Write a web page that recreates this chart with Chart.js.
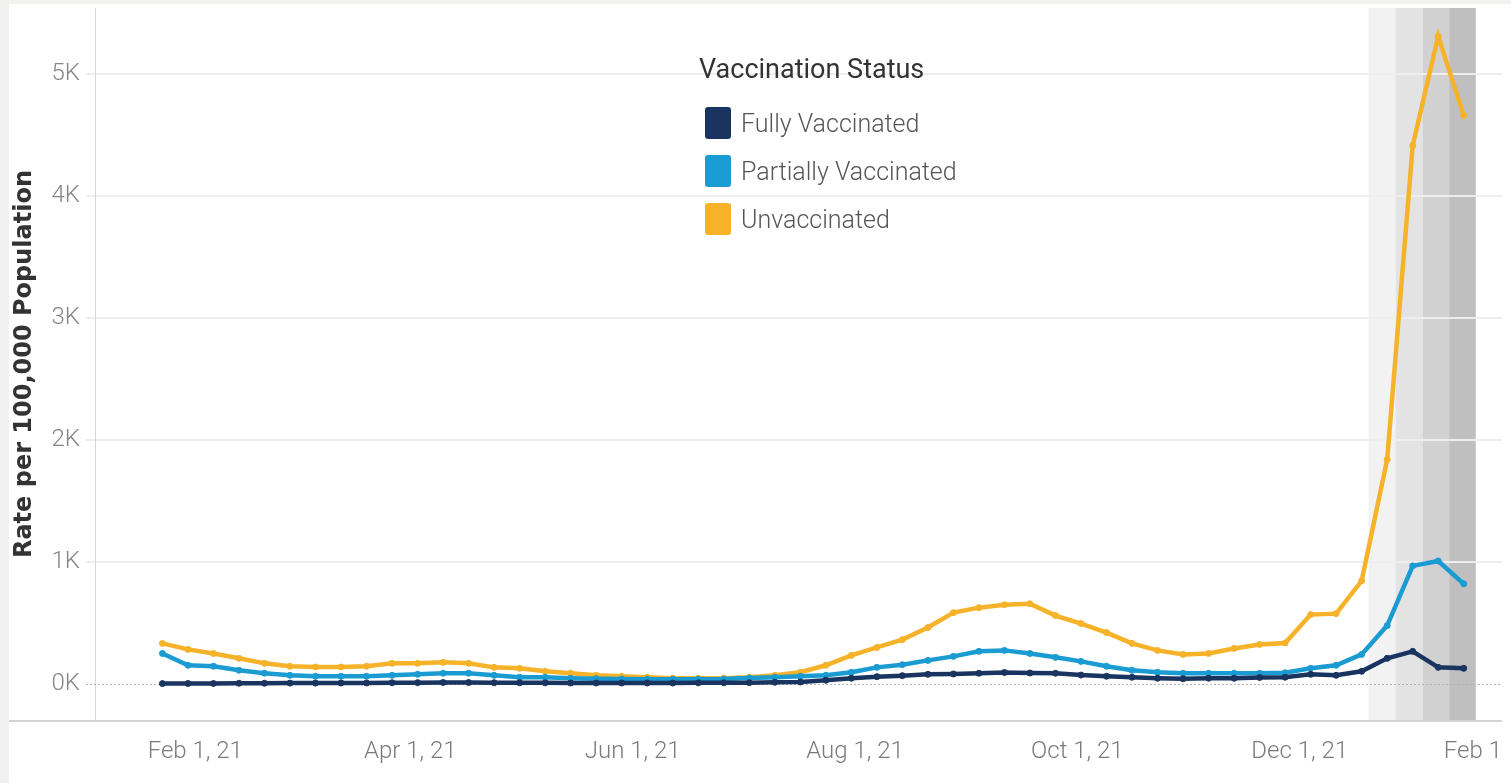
<!DOCTYPE html>
<html>
<head>
    <meta charset="utf-8">
    <title>Rate per 100,000 Population by Vaccination Status</title>
    <script src="https://cdn.jsdelivr.net/npm/chart.js@4.4.0/dist/chart.umd.min.js"></script>
    <style>
    html,
    body {
        margin: 0;
        padding: 0;
        background: #f1f1f0;
    }

    #panel {
        position: absolute;
        left: 9px;
        top: 4px;
        width: 1502px;
        height: 779px;
        background: #fff;
    }

    #legend {
        position: absolute;
        left: 690px;
        top: 49px;
        font-family: Roboto, "Noto Sans", sans-serif;
    }

    #legend .title {
        font-size: 27px;
        color: #333;
        margin-bottom: 14px;
    }

    #legend .item {
        display: flex;
        align-items: center;
        height: 48px;
        margin-left: 6px;
        font-size: 25px;
        font-weight: 300;
        color: #555;
    }

    #legend .box {
        width: 26px;
        height: 32px;
        border-radius: 3px;
        margin-right: 10px;
    }
    </style>
</head>

<body>
    <div id="panel">
        <canvas id="myChart"></canvas>
        <div id="legend"></div>
    </div>

    <script>
      // week ending dates
      const weeks = [
        '2021-01-23', '2021-01-30', '2021-02-06', '2021-02-13', '2021-02-20', '2021-02-27',
        '2021-03-06', '2021-03-13', '2021-03-20', '2021-03-27', '2021-04-03', '2021-04-10',
        '2021-04-17', '2021-04-24', '2021-05-01', '2021-05-08', '2021-05-15', '2021-05-22',
        '2021-05-29', '2021-06-05', '2021-06-12', '2021-06-19', '2021-06-26', '2021-07-03',
        '2021-07-10', '2021-07-17', '2021-07-24', '2021-07-31', '2021-08-07', '2021-08-14',
        '2021-08-21', '2021-08-28', '2021-09-04', '2021-09-11', '2021-09-18', '2021-09-25',
        '2021-10-02', '2021-10-09', '2021-10-16', '2021-10-23', '2021-10-30', '2021-11-06',
        '2021-11-13', '2021-11-20', '2021-11-27', '2021-12-04', '2021-12-11', '2021-12-18',
        '2021-12-25', '2022-01-01', '2022-01-08', '2022-01-15'
      ];

      const fullyVaccinated = [
        5, 6, 6, 8, 8, 9, 9, 10, 10, 12, 13, 14, 14, 12, 12, 11, 10, 10, 10, 10, 10, 11,
        12, 13, 16, 18, 33, 49, 62, 70, 81, 84, 90, 96, 92, 90, 75, 65, 57, 49, 44, 49,
        49, 55, 57, 81, 73, 106, 212, 269, 138, 130
      ];
      const partiallyVaccinated = [
        252, 155, 147, 114, 90, 73, 65, 65, 65, 73, 81, 90, 90, 73, 57, 57, 49, 45, 42, 40,
        40, 40, 42, 50, 57, 65, 73, 98, 138, 160, 195, 228, 269, 277, 252, 220, 187, 147,
        114, 98, 90, 90, 90, 90, 94, 130, 155, 244, 480, 969, 1009, 822
      ];
      const unvaccinated = [
        334, 285, 252, 212, 171, 147, 141, 141, 147, 171, 171, 179, 171, 138, 130, 106, 90,
        73, 65, 57, 49, 49, 49, 57, 73, 98, 155, 236, 301, 365, 464, 586, 627, 651, 659,
        562, 497, 423, 334, 277, 244, 252, 293, 326, 338, 570, 578, 847, 1840, 4410, 5305, 4656
      ];

      const seriesNames = ['Fully Vaccinated', 'Partially Vaccinated', 'Unvaccinated'];
      const seriesColors = ['#18345f', '#1a9bd2', '#f6b229'];

      const xTickDates = ['2021-02-01', '2021-04-01', '2021-06-01', '2021-08-01', '2021-10-01', '2021-12-01', '2022-02-01'];
      const xTickLabels = ['Feb 1, 21', 'Apr 1, 21', 'Jun 1, 21', 'Aug 1, 21', 'Oct 1, 21', 'Dec 1, 21', 'Feb 1'];
      const yTicks = [0, 1000, 2000, 3000, 4000, 5000];

      // shaded weeks at the end (start / end dates of each band) and their greys
      const bandEdges = ['2021-12-19.9', '2021-12-27.3', '2022-01-03.7', '2022-01-11', '2022-01-18.3'];
      const bandColors = ['#f2f2f2', '#e3e3e3', '#d1d1d1', '#bfbfbf'];

      const X_MIN = 3.5, X_MAX = 389.5, Y_MIN = -293, Y_MAX = 5537;

      function dayNum(s) {
        const [date, frac] = s.split('.');
        const [y, m, d] = date.split('-').map(Number);
        return (Date.UTC(y, m - 1, d) - Date.UTC(2021, 0, 1)) / 86400000 + (frac ? Number('0.' + frac) : 0);
      }

      const series = [fullyVaccinated, partiallyVaccinated, unvaccinated];
      const datasets = series.map((vals, k) => ({
        label: seriesNames[k],
        data: vals.map((v, i) => ({ x: dayNum(weeks[i]), y: v })),
        borderColor: seriesColors[k],
        backgroundColor: seriesColors[k],
        pointBackgroundColor: seriesColors[k],
        pointBorderColor: seriesColors[k],
        borderWidth: 4.5,
        pointRadius: 3,
        pointBorderWidth: 1,
        pointHoverRadius: 3,
        tension: 0,
        fill: false
      }));

      const bandsPlugin = {
        id: 'bands',
        beforeDraw(chart) {
          const { ctx, chartArea, scales } = chart;
          ctx.save();
          for (let i = 0; i < bandColors.length; i++) {
            const x0 = scales.x.getPixelForValue(dayNum(bandEdges[i]));
            const x1 = scales.x.getPixelForValue(dayNum(bandEdges[i + 1]));
            ctx.fillStyle = bandColors[i];
            ctx.fillRect(x0, chartArea.top, x1 - x0, chartArea.bottom - chartArea.top);
          }
          ctx.restore();
        }
      };

      const axisLinesPlugin = {
        id: 'axisLines',
        beforeDatasetsDraw(chart) {
          const { ctx, chartArea, scales } = chart;
          const y0 = scales.y.getPixelForValue(0);
          ctx.save();
          // dotted zero line
          ctx.strokeStyle = '#b9b1b4';
          ctx.lineWidth = 1;
          ctx.setLineDash([2, 2]);
          ctx.beginPath();
          ctx.moveTo(chartArea.left - 9, Math.round(y0) + 0.5);
          ctx.lineTo(chartArea.right, Math.round(y0) + 0.5);
          ctx.stroke();
          // bottom axis line across the whole panel
          ctx.setLineDash([]);
          ctx.strokeStyle = '#d2d2d2';
          ctx.lineWidth = 2;
          ctx.beginPath();
          ctx.moveTo(0, chartArea.bottom + 1);
          ctx.lineTo(chartArea.right, chartArea.bottom + 1);
          ctx.stroke();
          ctx.restore();
        }
      };

      const ctx = document.getElementById('myChart').getContext('2d');
      const myChart = new Chart(ctx, {
        type: 'line',
        data: { datasets },
        plugins: [bandsPlugin, axisLinesPlugin],
        options: {
          responsive: true,
          maintainAspectRatio: false,
          animation: false,
          layout: { padding: { left: 0, right: 9, top: 0, bottom: 0 } },
          plugins: {
            legend: { display: false },
            tooltip: { enabled: false }
          },
          scales: {
            x: {
              type: 'linear',
              min: X_MIN,
              max: X_MAX,
              afterBuildTicks(s) {
                // blank first tick so 'inner' alignment only affects the clipped last label
                s.ticks = [{ value: X_MIN }].concat(xTickDates.map(d => ({ value: Math.min(dayNum(d), X_MAX) })));
              },
              afterFit(s) {
                s.height = 63;
                s.paddingLeft = 0;
                s.paddingRight = 0;
              },
              grid: { display: false, drawTicks: false },
              border: { display: false },
              ticks: {
                autoSkip: false,
                maxRotation: 0,
                align: 'inner',
                padding: 18,
                color: '#7b7b7b',
                font: { family: 'Roboto, "Noto Sans", sans-serif', size: 24, weight: 300 },
                callback: (v, i) => (i === 0 ? '' : xTickLabels[i - 1])
              }
            },
            y: {
              min: Y_MIN,
              max: Y_MAX,
              afterBuildTicks(s) {
                s.ticks = yTicks.map(v => ({ value: v }));
              },
              afterFit(s) {
                s.width = 86;
                s.paddingTop = 0;
                s.paddingBottom = 0;
              },
              grid: {
                color: c => (c.tick && c.tick.value === 0 ? 'rgba(0,0,0,0)' : '#eeeeee'),
                lineWidth: 2,
                drawTicks: true,
                tickLength: 9
              },
              border: { display: true, color: '#d6d6d6', width: 1 },
              ticks: {
                padding: 6,
                color: '#858585',
                font: { family: 'Roboto, "Noto Sans", sans-serif', size: 24, weight: 300 },
                callback: v => (v / 1000) + 'K'
              },
              title: {
                display: true,
                text: 'Rate per 100,000 Population',
                color: '#333',
                padding: { top: 1, bottom: 0 },
                font: { family: '"DejaVu Sans", Verdana, sans-serif', size: 24, weight: 'bold' }
              }
            }
          }
        }
      });

      // legend
      const legend = document.getElementById('legend');
      legend.innerHTML = '<div class="title">Vaccination Status</div>' +
        seriesNames.map((n, k) =>
          '<div class="item"><div class="box" style="background:' + seriesColors[k] + '"></div>' + n + '</div>'
        ).join('');
    </script>
</body>
</html>
